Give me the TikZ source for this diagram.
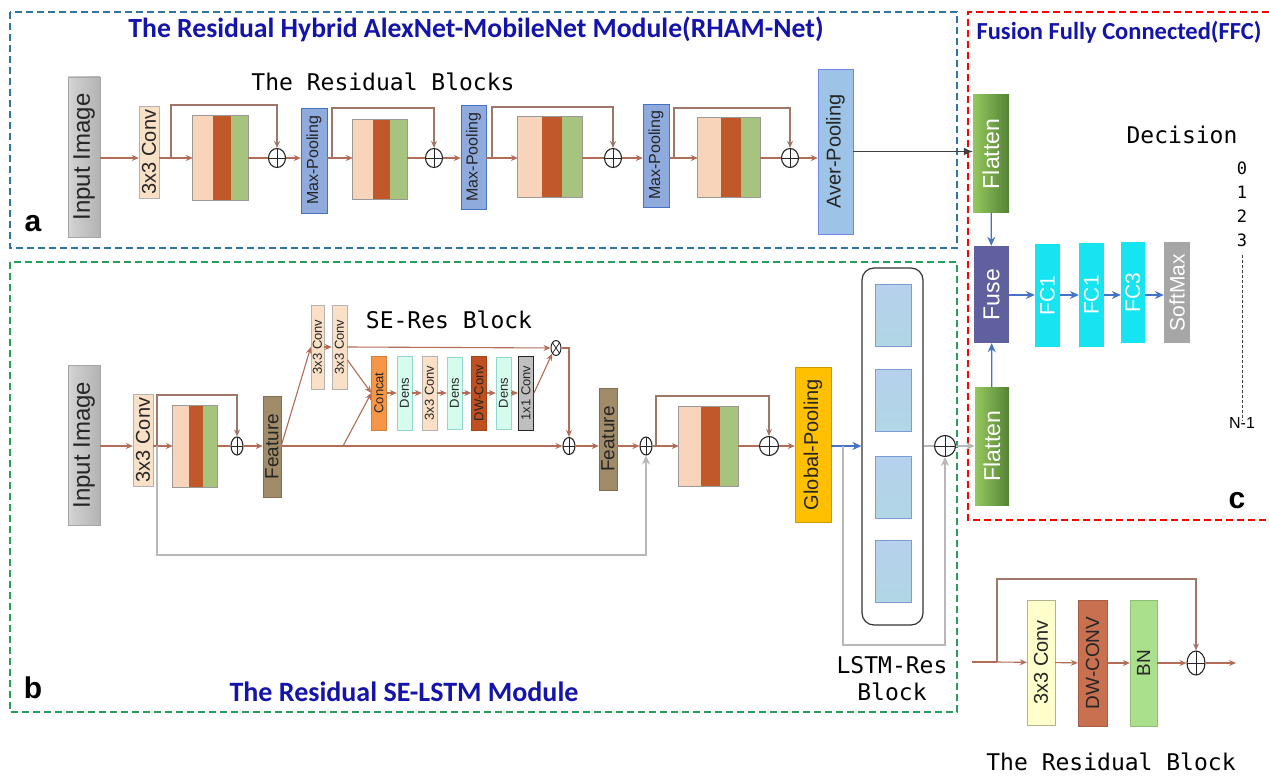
\documentclass[tikz,border=0pt]{standalone}
\usepackage{graphicx}
\usepackage{fontspec}
\setmainfont{Liberation Sans}
\newfontfamily\codefont{DejaVu Sans Mono}
\newfontfamily\headfont{Carlito}
\usetikzlibrary{arrows.meta,shapes.geometric,calc}

\definecolor{arr}{RGB}{178,108,88}
\definecolor{skp}{RGB}{160,118,104}
\definecolor{peach}{RGB}{247,212,186}
\definecolor{rust}{RGB}{192,88,42}
\definecolor{sage}{RGB}{166,196,126}
\definecolor{cpeach}{RGB}{250,224,198}
\definecolor{mpool}{RGB}{143,170,220}
\definecolor{apool}{RGB}{157,195,230}
\definecolor{feat}{RGB}{160,140,104}
\definecolor{dens}{RGB}{214,252,238}
\definecolor{gpool}{RGB}{255,192,0}
\definecolor{lstmc}{RGB}{157,193,230}
\definecolor{fusec}{RGB}{96,96,158}
\definecolor{fcc}{RGB}{22,228,240}
\definecolor{hblue}{RGB}{20,20,170}
\definecolor{pa}{RGB}{46,117,160}
\definecolor{pb}{RGB}{40,158,90}
\definecolor{ablue}{RGB}{68,114,196}
\definecolor{concatc}{RGB}{247,150,70}
\definecolor{dwc}{RGB}{192,80,31}
\definecolor{dwbig}{RGB}{200,112,80}
\definecolor{bnc}{RGB}{170,224,140}
\definecolor{lemon}{RGB}{255,255,204}

\tikzset{
  fs/.style={font=\fontsize{#1}{#1}\selectfont},
  blk/.style={draw=black!35,inner sep=0pt,text=black!85},
  gbox/.style={left color=black!17,right color=black!30,draw=black!35},
  cbox/.style={fill=cpeach,draw=black!30},
  mbox/.style={fill=mpool,draw=ablue},
  abox/.style={fill=apool,draw=apool!70!blue},
  fbox/.style={fill=feat,draw=feat!80!black},
  obox/.style={fill=concatc,draw=concatc!85!black},
  dbox/.style={fill=dens,draw=dens!70!teal},
  wbox/.style={fill=dwc,draw=dwc!85!black},
  kbox/.style={fill=black!25,draw=black!85,line width=1pt},
  ybox/.style={fill=gpool,draw=gpool!80!black},
  lbox/.style={left color={rgb,255:red,150;green,200;blue,95},right color={rgb,255:red,84;green,130;blue,53},draw=none,text=white},
  ubox/.style={fill=fusec,draw=none,text=white},
  qbox/.style={fill=fcc,draw=none,text=white},
  sbox/.style={fill=black!35,draw=none,text=white},
  cell/.style={top color=lstmc!75,bottom color=lstmc!110!blue!95,draw=ablue!70,minimum width=36pt,minimum height=62pt,inner sep=0pt},
  addc/.style={ellipse,draw=black!85,line width=1.1pt,inner sep=0pt,fill=white,
    path picture={\draw[black!85,line width=.9pt] (path picture bounding box.north)--(path picture bounding box.south)
      (path picture bounding box.west)--(path picture bounding box.east);}},
  mulc/.style={ellipse,draw=black!85,line width=1pt,inner sep=0pt,fill=white,
    path picture={\draw[black!85,line width=.8pt] (path picture bounding box.north west)--(path picture bounding box.south east)
      (path picture bounding box.south west)--(path picture bounding box.north east);}},
  ar/.style={draw=arr,line width=1.1pt,-{Stealth[length=7pt,width=6pt]}},
  ln/.style={draw=arr,line width=1.1pt},
  skar/.style={draw=skp,line width=1.1pt,-{Stealth[length=7pt,width=6pt]}},
  grar/.style={draw=black!28,line width=1.3pt,-{Stealth[length=9pt,width=8pt]}},
  gr/.style={draw=black!28,line width=1.3pt},
  blar/.style={draw=ablue,line width=1.2pt,-{Stealth[length=9pt,width=8pt]}},
  panel/.style={line width=2pt,dash pattern=on 7pt off 4pt},
  htitle/.style={text=hblue,font=\headfont\bfseries\fontsize{#1}{#1}\selectfont},
  code/.style={font=\codefont\fontsize{23}{27}\selectfont,align=center},
  tag/.style={font=\bfseries\fontsize{30}{30}\selectfont}
}

\newcommand{\NETb}[7]{\node[blk,#6,minimum width=#4pt,minimum height=#5pt] (#1) at (#2,#3) {\rotatebox{90}{#7}};}
\newcommand{\NETr}[5]{\node[inner sep=0pt,minimum width=#4pt,minimum height=#5pt] (#1) at (#2,#3) {};
  \fill[peach] (#1.south west) rectangle ($(#1.north west)!.37!(#1.north east)$);
  \fill[rust] ($(#1.south west)!.37!(#1.south east)$) rectangle ($(#1.north west)!.69!(#1.north east)$);
  \fill[sage] ($(#1.south west)!.69!(#1.south east)$) rectangle (#1.north east);
  \draw[black!40,line width=.8pt] (#1.south west) rectangle (#1.north east);}

\begin{document}
\begin{tikzpicture}[x=1pt,y=-1pt]
  \useasboundingbox (0,0) rectangle (1269,778);
  \fill[white] (0,0) rectangle (1269,778);
  \path (0,158) coordinate (rowA) (0,446) coordinate (rowB) (0,295) coordinate (rowC);

  \draw[panel,pa] (10,12) rectangle (957,248);
  \draw[panel,pb] (10,262) rectangle (957,712);
  \draw[panel,red] (1269,12) -| (968,520) -- (1269,520);

  \node[htitle=27.7] (tA) at (476,29) {The Residual Hybrid AlexNet-MobileNet Module(RHAM-Net)};
  \node[htitle=28] (tB) at (404,692) {The Residual SE-LSTM Module};
  \node[htitle=24.5] (tC) at (1119,32) {Fusion Fully Connected(FFC)};
  \node[code] (tRes) at (383,82) {The Residual Blocks};
  \node[code] (tSE) at (449,320) {SE-Res Block};
  \node[code] (tLstm) at (892,679) {LSTM-Res\\Block};
  \node[code] (tDec) at (1182,135) {Decision};
  \node[code] (tBlk) at (1111,762) {The Residual Block};
  \node[tag] (la) at (33,224) {a};
  \node[tag] (lb) at (33,688) {b};
  \node[tag] (lc) at (1237,501) {c};

  \NETb{inA}{84}{157}{32}{160}{gbox,fs=24}{Input Image}
  \NETb{convA}{149}{152}{20}{92}{cbox,fs=20}{3x3 Conv}
  \NETb{mpA1}{314}{160.5}{26}{105}{mbox,fs=16}{Max-Pooling}
  \NETb{mpA2}{473.5}{157}{25}{104}{mbox,fs=16}{Max-Pooling}
  \NETb{mpA3}{656}{155.5}{26}{103}{mbox,fs=16}{Max-Pooling}
  \NETb{avgA}{835.5}{151.5}{35}{165}{abox,fs=20}{Aver-Pooling}
  \NETr{resA1}{220.5}{158}{55}{84}
  \NETr{resA2}{380}{159.5}{54}{79}
  \NETr{resA3}{550}{157}{64}{80}
  \NETr{resA4}{729}{157.5}{62}{79}
  \foreach \n/\x in {addA1/277,addA2/434,addA3/613,addA4/790}
    \node[addc,minimum width=17pt,minimum height=19pt] (\n) at (\x,158) {};
  \foreach \n/\x in {jA1/171,jA2/332,jA3/492,jA4/674}
    \coordinate (\n) at (\x,158);

  \draw[ar] (inA.east |- rowA) -- (convA.west |- rowA);
  \foreach \p/\r in {convA/resA1,mpA1/resA2,mpA2/resA3,mpA3/resA4}
    \draw[ar] (\p.east |- rowA) -- (\r.west |- rowA);
  \foreach \r/\a/\m in {resA1/addA1/mpA1,resA2/addA2/mpA2,resA3/addA3/mpA3,resA4/addA4/avgA}{
    \draw[ln] (\r.east |- rowA) -- (\a);
    \draw[ar] (\a) -- (\m.west |- rowA);}
  \foreach \j/\h/\a in {jA1/53/addA1,jA2/50/addA2,jA3/51/addA3,jA4/50/addA4}
    \draw[skar] (\j) -- ++(0,-\h) -| (\a.north);

  \NETb{inB}{84}{445}{32}{160}{gbox,fs=24}{Input Image}
  \NETb{convB}{143}{440}{20}{92}{cbox,fs=20}{3x3 Conv}
  \NETr{resB1}{195}{446.5}{44}{81}
  \node[addc,minimum width=12pt,minimum height=18pt] (addB1) at (237,446) {};
  \NETb{featB1}{272}{446.5}{18}{101}{fbox,fs=19}{Feature}
  \NETb{cvS1}{317.5}{347}{13}{84}{cbox,fs=13}{3x3 Conv}
  \NETb{cvS2}{339.5}{347}{15}{84}{cbox,fs=13}{3x3 Conv}
  \NETb{concat}{379}{393}{15}{74}{obox,fs=13}{Concat}
  \NETb{dens1}{404.5}{393}{15}{74}{dbox,fs=13}{Dens}
  \NETb{cv3}{429.5}{393}{15}{74}{cbox,fs=13}{3x3 Conv}
  \NETb{dens2}{454.5}{393}{15}{72}{dbox,fs=13}{Dens}
  \NETb{dwcv}{479}{393}{15}{74}{wbox,fs=13}{DW-Conv}
  \NETb{dens3}{503.5}{393}{15}{72}{dbox,fs=13}{Dens}
  \NETb{c1x1}{526}{393}{15}{74}{kbox,fs=13}{1x1 Conv}
  \node[mulc,minimum width=10pt,minimum height=15pt] (mulB) at (556,348) {};
  \node[addc,minimum width=12pt,minimum height=17pt] (addB2) at (569,446) {};
  \NETb{featB2}{608}{439}{18}{102}{fbox,fs=19}{Feature}
  \node[addc,minimum width=12pt,minimum height=18pt] (addB3) at (646,446) {};
  \NETr{resB2}{708.5}{446.5}{59}{79}
  \node[addc,minimum width=19pt,minimum height=19pt] (addB4) at (769,446) {};
  \NETb{gpool}{813}{444.5}{36}{155}{ybox,fs=20}{Global-Pooling}
  \node[draw=black!80,line width=1.2pt,rounded corners=12pt,minimum width=61pt,minimum height=357pt] (lstm) at (892.5,446.5) {};
  \foreach \y [count=\i] in {315.5,400.5,487,571}
    \node[cell] (cell\i) at (893,\y) {};
  \node[addc,minimum width=21pt,minimum height=21pt] (addB5) at (945,446) {};
  \coordinate (jB1) at (157,446);
  \coordinate (jB2) at (343,446);
  \coordinate (jB3) at (656,446);
  \coordinate (jB4) at (843,446);

  \draw[ar] (inB.east |- rowB) -- (convB.west |- rowB);
  \draw[ar] (convB.east |- rowB) -- (resB1.west |- rowB);
  \draw[ln] (resB1.east |- rowB) -- (addB1);
  \draw[ar] (addB1) -- (featB1.west |- rowB);
  \draw[skar] (jB1) -- ++(0,-51) -| (addB1.north);
  \draw[grar] (jB1) -- ++(0,109) -| (addB3.south);
  \draw[ar] (featB1.east |- rowB) -- (addB2);
  \draw[ar] (featB1.east |- rowB) -- (cvS1.west);
  \draw[ar] (cvS1) -- (cvS2);
  \draw[ar] (cvS2.east) -- (mulB);
  \draw[ar] ($(cvS2.north east)!.65!(cvS2.south east)$) -- (concat.west);
  \draw[ar] (jB2) -- (concat.west);
  \foreach \p/\q in {concat/dens1,dens1/cv3,cv3/dens2,dens2/dwcv,dwcv/dens3,dens3/c1x1}
    \draw[ar] (\p) -- (\q);
  \draw[ar] (c1x1.east) -- (mulB.south west);
  \draw[ar] (mulB.east) -| (addB2.north);
  \draw[ar] (addB2) -- (featB2.west |- rowB);
  \draw[ar] (featB2.east |- rowB) -- (addB3);
  \draw[ar] (addB3) -- (resB2.west |- rowB);
  \draw[skar] (jB3) -- ++(0,-50) -| (addB4.north);
  \draw[ln] (resB2.east |- rowB) -- (addB4);
  \draw[ar] (addB4) -- (gpool.west |- rowB);
  \draw[blar] (gpool.east |- rowB) -- (lstm.west |- rowB);
  \draw[grar] (jB4) -- ++(0,199) -| (addB5.south);
  \draw[gr] (lstm.east |- rowB) -- (addB5);

  \NETb{flatT}{991}{154}{36}{118}{lbox,fs=23}{Flatten}
  \NETb{fuse}{991.5}{294.5}{35}{97}{ubox,fs=23}{Fuse}
  \NETb{flatB}{992}{446}{34}{118}{lbox,fs=23}{Flatten}
  \NETb{fc1}{1047.5}{295.5}{25}{103}{qbox,fs=21}{FC1}
  \NETb{fc2}{1091.5}{295}{25}{104}{qbox,fs=21}{FC1}
  \NETb{fc3}{1133}{292.5}{24}{101}{qbox,fs=21}{FC3}
  \NETb{smax}{1177}{292.5}{26}{101}{sbox,fs=21}{SoftMax}
  \foreach \n [count=\i from 0] in {0,1,2,3}
    \node[font=\codefont\fontsize{17}{17}\selectfont] (d\i) at (1242,168+24*\i) {\n};
  \node[fs=16] (dN) at (1242,423) {N-1};
  \draw[black!75,line width=1pt,dash pattern=on 3pt off 2pt] (d3.south) ++(0,5) -- ([yshift=-7pt]dN.north);

  \draw[black!75,line width=1.2pt,-{Latex[length=9pt,width=8pt]}] (avgA.east) -- (avgA.east -| flatT.west);
  \draw[grar] (addB5) -- (flatB.west |- rowB);
  \draw[blar] (flatT) -- (fuse);
  \draw[blar] (flatB) -- (fuse);
  \foreach \p/\q in {fuse/fc1,fc1/fc2,fc2/fc3,fc3/smax}
    \draw[blar] (\p.east |- rowC) -- (\q.west |- rowC);

  \NETb{rconv}{1041}{662.5}{28}{125}{fill=lemon,draw=lemon!70!black,fs=20}{3x3 Conv}
  \NETb{rdw}{1092.5}{663}{29}{126}{fill=dwbig,draw=dwbig!85!black,fs=19}{DW-CONV}
  \NETb{rbn}{1143.5}{663}{27}{126}{fill=bnc,draw=bnc!85!black,fs=19}{BN}
  \node[addc,minimum width=18pt,minimum height=24pt] (radd) at (1196,663) {};
  \coordinate (rin) at (972,662);
  \coordinate (rj) at (997,662);
  \coordinate (rout) at (1236,663);
  \draw[ln] (rin) -- (rj);
  \draw[ar] (rj) -- (rconv);
  \draw[ar] (rconv) -- (rdw);
  \draw[ar] (rdw) -- (rbn);
  \draw[ar] (rbn) -- (radd);
  \draw[ar] (radd) -- (rout);
  \draw[skar] (rj) -- ++(0,-83) -| (radd.north);
\end{tikzpicture}
\end{document}
